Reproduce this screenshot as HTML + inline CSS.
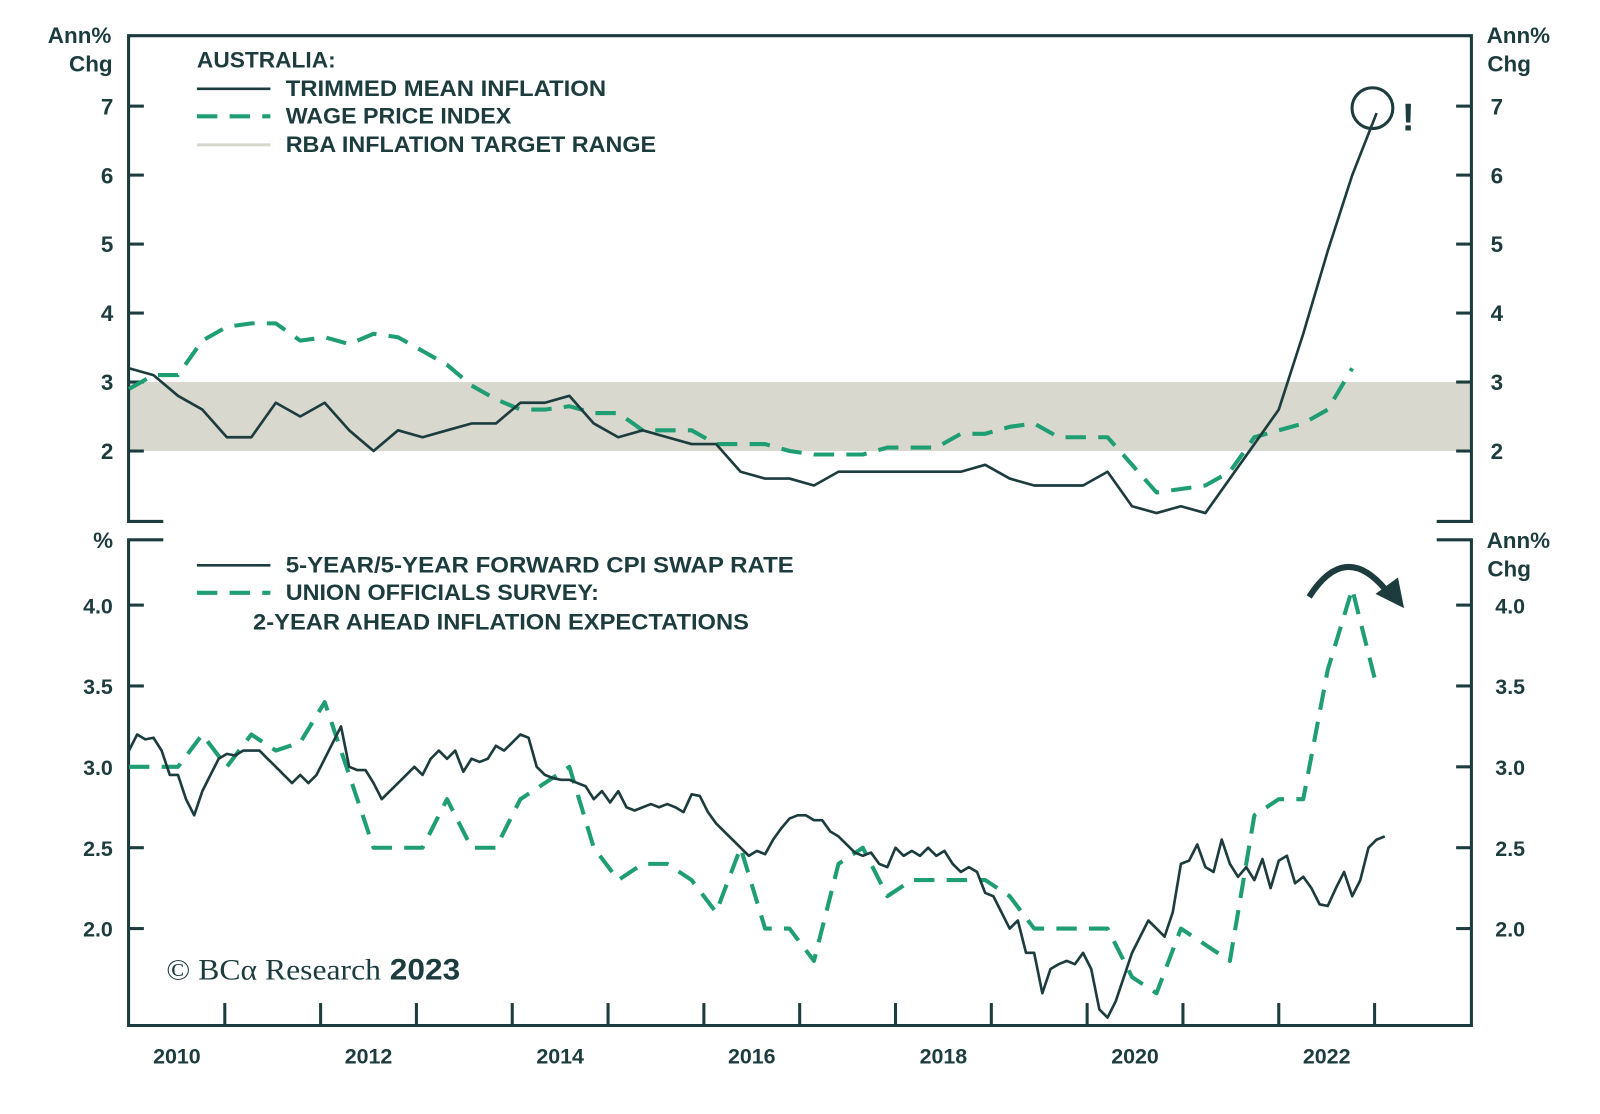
<!DOCTYPE html>
<html><head><meta charset="utf-8"><style>
body{margin:0;background:#fff;}
svg text{font-family:"Liberation Sans",sans-serif;fill:#1d3c3e;font-weight:bold;}
</style></head><body>
<svg width="1600" height="1109" viewBox="0 0 1600 1109" xmlns="http://www.w3.org/2000/svg"><g id="c" transform="scale(1.0204)"></g></svg>
<script>
const tmiValues=[3.2,3.1,2.8,2.6,2.2,2.2,2.7,2.5,2.7,2.3,2.0,2.3,2.2,2.3,2.4,2.4,2.7,2.7,2.8,2.4,2.2,2.3,2.2,2.1,2.1,1.7,1.6,1.6,1.5,1.7,1.7,1.7,1.7,1.7,1.7,1.8,1.6,1.5,1.5,1.5,1.7,1.2,1.1,1.2,1.1,1.6,2.1,2.6,3.7,4.9,6.0,6.9];
const wpiValues=[2.9,3.1,3.1,3.6,3.8,3.85,3.85,3.6,3.65,3.55,3.7,3.65,3.45,3.25,2.95,2.75,2.6,2.6,2.65,2.55,2.55,2.3,2.3,2.3,2.1,2.1,2.1,2.0,1.95,1.95,1.95,2.05,2.05,2.05,2.25,2.25,2.35,2.4,2.2,2.2,2.2,1.8,1.4,1.45,1.5,1.7,2.2,2.3,2.4,2.6,3.2];
const swapValues=[3.1,3.2,3.17,3.18,3.1,2.95,2.95,2.8,2.7,2.85,2.95,3.05,3.08,3.07,3.1,3.1,3.1,3.05,3.0,2.95,2.9,2.95,2.9,2.95,3.05,3.15,3.25,3.0,2.98,2.98,2.9,2.8,2.85,2.9,2.95,3.0,2.95,3.05,3.1,3.05,3.1,2.97,3.05,3.03,3.05,3.13,3.1,3.15,3.2,3.18,3.0,2.95,2.93,2.92,2.92,2.9,2.88,2.8,2.85,2.78,2.85,2.75,2.73,2.75,2.77,2.75,2.77,2.75,2.72,2.83,2.82,2.72,2.65,2.6,2.55,2.5,2.45,2.48,2.46,2.55,2.62,2.68,2.7,2.7,2.67,2.67,2.6,2.57,2.52,2.47,2.45,2.47,2.4,2.38,2.5,2.45,2.48,2.45,2.5,2.45,2.48,2.4,2.35,2.38,2.35,2.22,2.2,2.1,2.0,2.05,1.85,1.85,1.6,1.75,1.78,1.8,1.78,1.85,1.75,1.5,1.45,1.55,1.7,1.85,1.95,2.05,2.0,1.95,2.1,2.4,2.42,2.52,2.38,2.35,2.55,2.4,2.32,2.38,2.3,2.43,2.25,2.42,2.45,2.28,2.32,2.25,2.15,2.14,2.25,2.35,2.2,2.3,2.5,2.55,2.57];
const unionValues=[3.0,3.0,3.0,3.2,3.0,3.2,3.1,3.15,3.4,2.95,2.5,2.5,2.5,2.8,2.5,2.5,2.8,2.9,3.0,2.5,2.3,2.4,2.4,2.3,2.1,2.5,2.0,2.0,1.8,2.4,2.5,2.2,2.3,2.3,2.3,2.3,2.2,2.0,2.0,2.0,2.0,1.7,1.6,2.0,1.9,1.8,2.7,2.8,2.8,3.6,4.1,3.5];
const topTicks=[2,3,4,5,6,7];
const botTicks=["2.0","2.5","3.0","3.5","4.0"];
const yearLabels=[2010,2012,2014,2016,2018,2020,2022];

const NS="http://www.w3.org/2000/svg";const svg=document.getElementById('c');
function el(t,a,p){const e=document.createElementNS(NS,t);for(const k in a)e.setAttribute(k,a[k]);(p||svg).appendChild(e);return e;}
const X=t=>126.4+(t-2010)*93.9;
const XD=t=>126.4+(t-2010)*95.9;
const YT=v=>442-(v-2)*67.6;
const YB=v=>910-(v-2)*158.5;
const DARK="#1d3c3e",GREEN="#1f9e74";
let e;
e=el('rect',{x:126,y:YT(3),width:1316,height:YT(2)-YT(3),fill:'#d8d8cf'});

e=el('path',{d:'M160 511 H126 V35 H1442 V511 H1408',fill:'none',stroke:DARK,'stroke-width':3});

e=el('path',{d:'M160 529 H126 V1005 H1442 V529 H1408',fill:'none',stroke:DARK,'stroke-width':3});

topTicks.forEach(v=>{const y=YT(v);
 el('line',{x1:126,x2:141,y1:y,y2:y,stroke:DARK,'stroke-width':3});
 el('line',{x1:1427,x2:1442,y1:y,y2:y,stroke:DARK,'stroke-width':3});
 e=el('text',{x:105,y:y+8,'text-anchor':'middle','font-size':22});e.textContent=v;
 
 e=el('text',{x:1467,y:y+8,'text-anchor':'middle','font-size':22});e.textContent=v;
 
});
botTicks.forEach(s=>{const y=YB(parseFloat(s));
 el('line',{x1:126,x2:141,y1:y,y2:y,stroke:DARK,'stroke-width':3});
 el('line',{x1:1427,x2:1442,y1:y,y2:y,stroke:DARK,'stroke-width':3});
 e=el('text',{x:96,y:y+8,'text-anchor':'middle','font-size':21});e.textContent=s;
 
 e=el('text',{x:1480,y:y+8,'text-anchor':'middle','font-size':21});e.textContent=s;
 
});
for(let yr=2011;yr<=2023;yr++){el('line',{x1:X(yr),x2:X(yr),y1:983,y2:1005,stroke:DARK,'stroke-width':3});}
yearLabels.forEach(yr=>{e=el('text',{x:X(yr+0.5),y:1042,'text-anchor':'middle','font-size':21});e.textContent=yr;
 });
[[78,'Ann%',42],[89,'Chg',70],[1488,'Ann%',42],[1479,'Chg',70],[101,'%',537],[1488,'Ann%',537],[1479,'Chg',565]].forEach(a=>{
 e=el('text',{x:a[0],y:a[2],'text-anchor':'middle','font-size':22});e.textContent=a[1];
 });
function line(vals,step,Y,color,dash,name,w){
 const d=vals.map((v,i)=>(i?'L':'M')+XD(2010+i*step).toFixed(1)+' '+Y(v).toFixed(1)).join(' ');
 const p=el('path',{d,fill:'none',stroke:color,'stroke-width':w,'stroke-linejoin':'round'});
 if(dash)p.setAttribute('stroke-dasharray',dash);
 
 
}
line(wpiValues,0.25,YT,GREEN,'20 12','wage-price-index-line',4);
line(tmiValues,0.25,YT,DARK,null,'trimmed-mean-inflation-line',2.6);
line(unionValues,0.25,YB,GREEN,'20 12','union-survey-line',4);
line(swapValues,1/12,YB,DARK,null,'swap-rate-line',2.6);
function leg(x,y,txt,len,color,dash,name,w){
 if(color){const l=el('line',{x1:193,x2:265,y1:y-7,y2:y-7,stroke:color,'stroke-width':w});if(dash)l.setAttribute('stroke-dasharray',dash);
 }
 const t=el('text',{x,y,'font-size':22,textLength:len,lengthAdjust:'spacingAndGlyphs'});t.textContent=txt;
 
}
leg(193,66,'AUSTRALIA:',136,null,null,'legend-title');
leg(280,94,'TRIMMED MEAN INFLATION',314,DARK,null,'legend-trimmed-mean',2.6);
leg(280,121,'WAGE PRICE INDEX',221,GREEN,'20 12','legend-wage-price-index',4);
leg(280,149,'RBA INFLATION TARGET RANGE',363,'#d8d8cf',null,'legend-rba-range',3);
leg(280,561,'5-YEAR/5-YEAR FORWARD CPI SWAP RATE',498,DARK,null,'legend-swap-rate',2.6);
leg(280,588,'UNION OFFICIALS SURVEY:',307,GREEN,'20 12','legend-union-survey',4);
leg(248,617,'2-YEAR AHEAD INFLATION EXPECTATIONS',486,null,null,'legend-union-survey-line2');
e=el('circle',{cx:1345,cy:106,r:20,fill:'none',stroke:DARK,'stroke-width':3});

e=el('text',{x:1380,y:128,'text-anchor':'middle','font-size':38});e.textContent='!';

e=el('path',{d:'M1283 585 Q1318 530 1358 578',fill:'none',stroke:DARK,'stroke-width':6});

e=el('path',{d:'M1348 582 L1376 596 L1370 566 Z',fill:DARK});

e=el('text',{x:163,y:960,'font-size':29,textLength:288,lengthAdjust:'spacingAndGlyphs'});
e.innerHTML='<tspan style="font-family:\'Liberation Serif\',serif;font-weight:normal">© BCα Research</tspan> 2023';

</script>
</body></html>
